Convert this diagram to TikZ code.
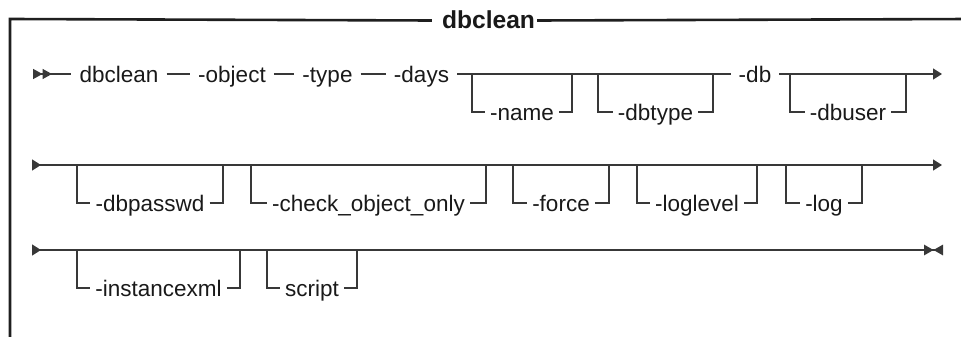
\documentclass[tikz,border=0pt]{standalone}
\usepackage{fontspec}
\setmainfont{Liberation Sans}
\usetikzlibrary{arrows.meta}

\begin{document}
\begin{tikzpicture}[x=1pt, y=-1pt,
    font=\fontsize{22.5}{27}\selectfont,
    rail/.style={line width=1.4pt, black!78},
    frame/.style={line width=2.6pt, black!88, line join=miter},
    kw/.style={inner xsep=8pt, inner ysep=0pt, text height=17pt, text depth=0pt, text=black!90},
    optbox/.style={kw, inner xsep=5pt},
    >={Triangle[length=9pt, width=11pt]}]
  \useasboundingbox (0,0) rectangle (961,337);

  % frame with title
  \node[kw, font=\fontsize{24.6}{29}\selectfont\bfseries, inner xsep=2pt] (title) at (488.5,20.5) {dbclean};
  \coordinate (ftl) at (10,19);
  \coordinate (fbl) at (10,345);
  \coordinate (ftr) at (970,19);
  \draw[frame] ([xshift=-8pt]title.west) -- (ftl) -- (fbl);
  \draw[frame] (title.east) -- (ftr);

  % row 1: required words
  \node[kw] (dbclean) at (119,74)   {dbclean};
  \node[kw] (object)  at (232,74)   {-object};
  \node[kw] (type)    at (327.5,74) {-type};
  \node[kw] (days)    at (421.5,74) {-days};
  \node[kw] (db)      at (755,74)   {-db};
  \coordinate (r1s) at (33,74);
  \coordinate (r1e) at (942,74);
  \draw[rail, {Triangle[reversed, length=9.5pt, width=10pt]Triangle[reversed, length=9.5pt, width=10pt]}-]
    (r1s) -- (dbclean.west);
  \draw[rail] (dbclean.east) -- (object.west);
  \draw[rail] (object.east) -- (type.west);
  \draw[rail] (type.east) -- (days.west);
  \draw[rail] (days.east) -- (db.west);
  \draw[rail, ->] (db.east) -- (r1e);

  % rows 2 and 3: continuation lines
  \coordinate (r2s) at (32,165);
  \coordinate (r2e) at (942,165);
  \coordinate (r3s) at (32,250);
  \coordinate (r3e) at (943,250);
  \draw[rail, {Triangle[reversed, length=9pt, width=11pt]}->] (r2s) -- (r2e);
  \draw[rail, {Triangle[reversed, length=9pt, width=11pt]}-{Triangle[length=9.5pt, width=10.5pt]Triangle[reversed, length=9.5pt, width=10.5pt]}]
    (r3s) -- (r3e);

  % optional items, hanging below the line
  \foreach \id/\txt/\xl/\xr/\y in {name/-name/472/572/74, dbtype/-dbtype/598/713/74,
      dbuser/-dbuser/790/906/74, dbpasswd/-dbpasswd/77/223/165,
      chk/-check\_object\_only/251/486/165, force/-force/513/609/165,
      loglevel/-loglevel/637/757/165, log/-log/786/862/165,
      instxml/-instancexml/77/240/250, script/script/267/357/250} {
    \coordinate (\id-in) at (\xl,\y);
    \coordinate (\id-out) at (\xr,\y);
    \node[optbox] (\id) at ({(\xl+\xr)/2},\y+38) {\txt};
    \draw[rail] (\id-in) |- (\id.west);
    \draw[rail] (\id.east) -| (\id-out);
  }
\end{tikzpicture}
\end{document}
